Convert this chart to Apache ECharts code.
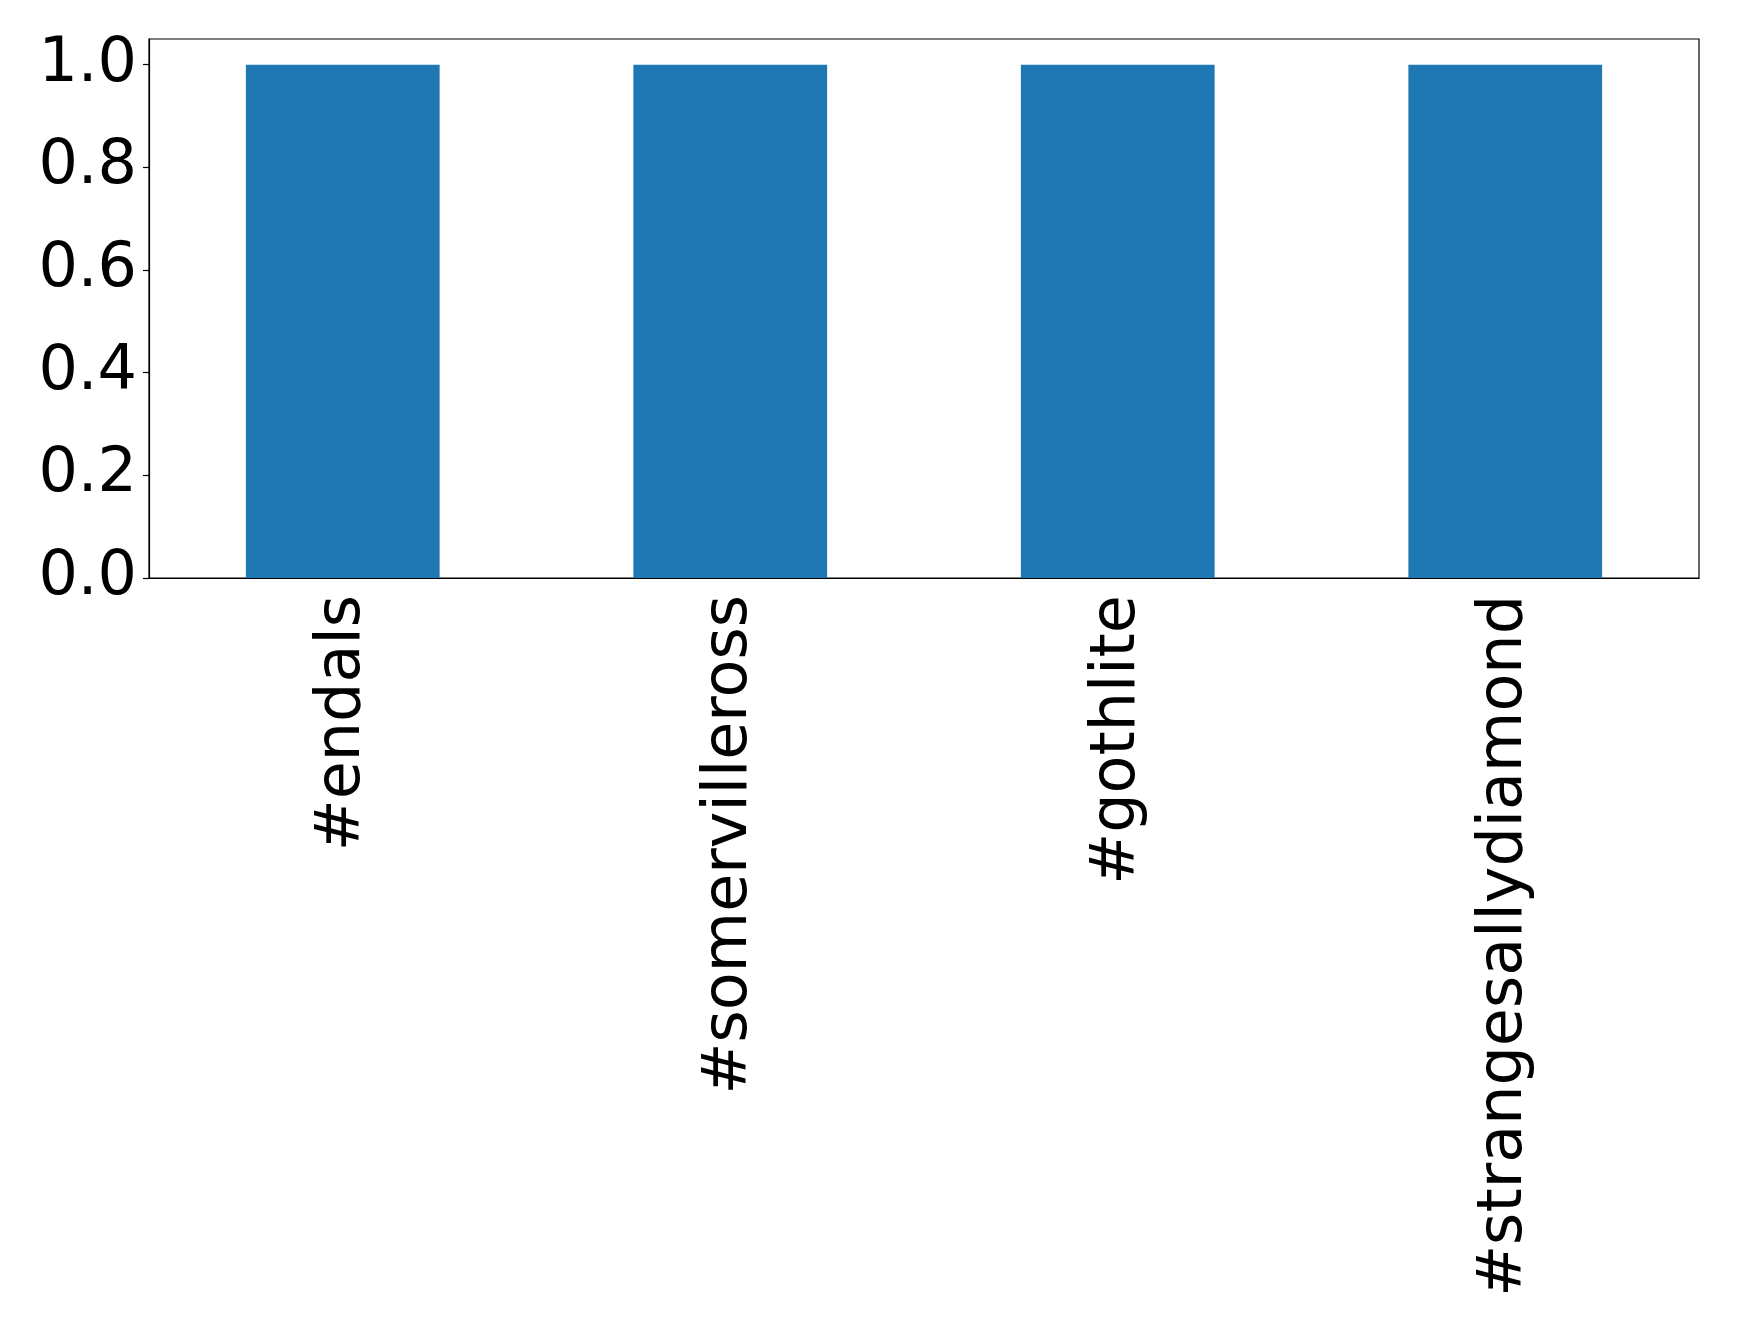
<!DOCTYPE html>
<html>
<head>
<meta charset="utf-8">
<script src="https://cdn.jsdelivr.net/npm/echarts@6/dist/echarts.min.js"></script>
<style>html,body{margin:0;padding:0;background:#fff}#c{width:1739px;height:1335px}</style>
</head>
<body>
<div id="c"></div>
<script>
const categories = ['#endals', '#somervilleross', '#gothlite', '#strangesallydiamond'];
const values = [1, 1, 1, 1];
const yTicks = [0, 0.2, 0.4, 0.6, 0.8, 1.0];

const chart = echarts.init(document.getElementById('c'), null, {renderer: 'canvas'});
const font = 'DejaVu Sans';
chart.setOption({
  animation: false,
  backgroundColor: '#ffffff',
  grid: {left: 149, top: 39, right: 40, bottom: 757, show: true, borderColor: '#000', borderWidth: 1.2, backgroundColor: 'transparent'},
  xAxis: {
    type: 'category',
    data: categories,
    axisLine: {lineStyle: {color: '#000', width: 1.2}},
    axisTick: {alignWithLabel: true, length: 6, lineStyle: {color: '#000', width: 1.2}},
    axisLabel: {rotate: 90, color: '#000', fontFamily: font, fontSize: 62, margin: 17, interval: 0}
  },
  yAxis: {
    type: 'value',
    min: 0, max: 1.05, interval: 0.2,
    splitLine: {show: false},
    axisLine: {show: true, lineStyle: {color: '#000', width: 1.2}},
    axisTick: {show: true, length: 6, lineStyle: {color: '#000', width: 1.2}, customValues: yTicks},
    axisLabel: {color: '#000', fontFamily: font, fontSize: 62, margin: 12, customValues: yTicks,
      formatter: v => v.toFixed(1)}
  },
  series: [{
    type: 'bar',
    data: values,
    barWidth: '50%',
    itemStyle: {color: '#1f77b4'}
  }]
});
</script>
</body>
</html>
